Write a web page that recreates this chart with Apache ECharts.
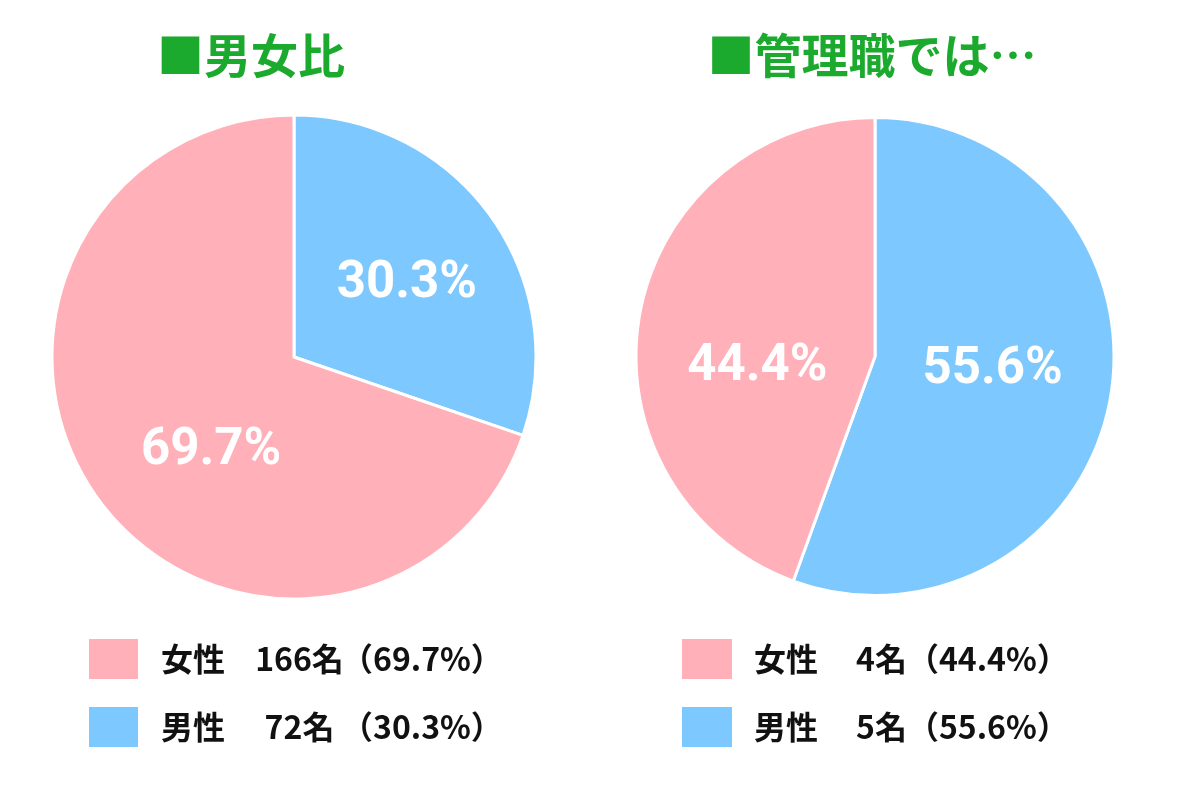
<!DOCTYPE html>
<html>
<head>
<meta charset="utf-8">
<script src="https://cdn.jsdelivr.net/npm/echarts@6/dist/echarts.min.js"></script>
<style>html,body{margin:0;padding:0;background:#fff}#c{width:1200px;height:800px}</style>
</head>
<body>
<div id="c"></div>
<script>
const titles = ['■男女比', '■管理職では…'];
const categories = ['男性', '女性'];
const legendOrder = ['女性', '男性'];
const allStaff = [72, 166];
const managers = [5, 4];
const colors = { '女性': '#FFB0B8', '男性': '#7CC8FF' };
// label nudges (style only)
const labelNudge = [
  { '男性': [12, -1], '女性': [18, 22] },
  { '男性': [-3, -8], '女性': [3, 32] }
];

const FONT = '"Noto Sans CJK JP", "Noto Sans", sans-serif';
const LABEL_FONT = 'Roboto, "Noto Sans", sans-serif';
const chart = echarts.init(document.getElementById('c'), null, { renderer: 'canvas' });

function pct(values, i) {
  const s = values.reduce((a, b) => a + b, 0);
  return (values[i] / s * 100).toFixed(1);
}
function buildData(values, k) {
  return categories.map((n, i) => ({
    name: n, value: values[i],
    itemStyle: { color: colors[n] },
    label: { offset: labelNudge[k][n] }
  }));
}
function legendFormatter(values) {
  return function (name) {
    const i = categories.indexOf(name);
    return '{a|' + name + '}{b|' + values[i] + '名}{c|（' + pct(values, i) + '%）}';
  };
}
const txt = { fontSize: 32, fontWeight: 'bold', color: '#111', fontFamily: FONT };

const option = {
  backgroundColor: '#ffffff',
  title: [
    { text: titles[0], left: 246, top: 27, textAlign: 'center',
      textStyle: { fontSize: 47, fontWeight: 'bold', color: '#1CAA2E', fontFamily: FONT } },
    { text: titles[1], left: 867, top: 27, textAlign: 'center',
      textStyle: { fontSize: 47, fontWeight: 'bold', color: '#1CAA2E', fontFamily: FONT } }
  ],
  legend: [
    {
      data: legendOrder, orient: 'vertical', left: 87, top: 637, padding: 0,
      icon: 'rect', itemWidth: 51, itemHeight: 42, itemGap: 24,
      selectedMode: false,
      formatter: legendFormatter(allStaff),
      textStyle: {
        rich: {
          a: Object.assign({}, txt, { width: 97, padding: [0, 0, 0, 17] }),
          b: Object.assign({}, txt, { width: 83, align: 'right' }),
          c: txt
        }
      }
    },
    {
      data: legendOrder, orient: 'vertical', left: 680, top: 637, padding: 0,
      icon: 'rect', itemWidth: 52, itemHeight: 42, itemGap: 24,
      selectedMode: false,
      formatter: legendFormatter(managers),
      textStyle: {
        rich: {
          a: Object.assign({}, txt, { width: 102, padding: [0, 0, 0, 16] }),
          b: txt,
          c: txt
        }
      }
    }
  ],
  series: [
    {
      type: 'pie', center: [294, 357], radius: 242, startAngle: 90, clockwise: true,
      data: buildData(allStaff, 0),
      itemStyle: { borderColor: '#fff', borderWidth: 3 },
      label: {
        position: 'inside', color: '#fff', fontSize: 51, fontWeight: 'bold', fontFamily: LABEL_FONT,
        formatter: p => pct(allStaff, p.dataIndex) + '%'
      },
      labelLine: { show: false },
      emphasis: { disabled: true },
      animation: false
    },
    {
      type: 'pie', center: [875, 356.5], radius: 239, startAngle: 90, clockwise: true,
      data: buildData(managers, 1),
      itemStyle: { borderColor: '#fff', borderWidth: 3 },
      label: {
        position: 'inside', color: '#fff', fontSize: 51, fontWeight: 'bold', fontFamily: LABEL_FONT,
        formatter: p => pct(managers, p.dataIndex) + '%'
      },
      labelLine: { show: false },
      emphasis: { disabled: true },
      animation: false
    }
  ]
};
chart.setOption(option);
</script>
</body>
</html>
